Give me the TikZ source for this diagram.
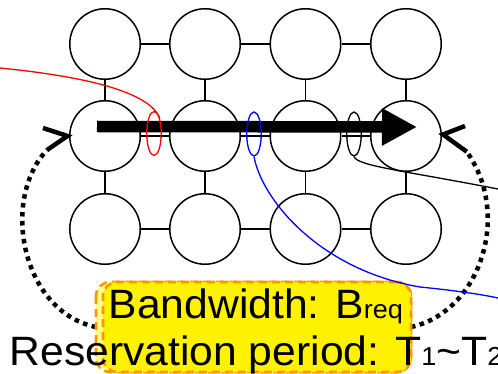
\documentclass[tikz,border=0pt]{standalone}
\usepackage{fontspec}
\setmainfont{Liberation Sans}
\usetikzlibrary{arrows.meta,shapes.geometric}
\definecolor{boxorange}{RGB}{255,150,0}
\definecolor{paleyellow}{RGB}{255,255,140}
\newcommand{\smalltext}[1]{{\fontsize{26}{26}\selectfont #1}}
\begin{document}
\begin{tikzpicture}[x=1pt,y=-1pt,
  router/.style={circle,draw,line width=1.5pt,fill=white,minimum size=70.5pt,inner sep=0pt},
  link/.style={line width=1.5pt},
  ring/.style={ellipse,draw,line width=1.3pt,minimum width=14.5pt,minimum height=44pt,inner sep=0pt},
  flow/.style={line width=1.3pt},
  loopback/.style={line width=4.5pt,dash pattern=on 4.5pt off 4.5pt},
  chevron/.style={line width=4.5pt,line cap=butt,line join=miter},
  specbox/.style={draw=boxorange,line width=2.6pt,dash pattern=on 8pt off 5pt,rounded corners=14pt,inner sep=0pt},
  big/.style={font=\fontsize{41}{41}\selectfont,anchor=base west,inner sep=0pt},
]
\useasboundingbox (0,0) rectangle (498,374);
\clip (0,0) rectangle (498,374);

% 3x4 grid of routers
\foreach \r/\y in {1/44,2/136,3/229}
  \foreach \c/\x in {1/105,2/205,3/305.5,4/406}
    \node[router] (n\r\c) at (\x,\y) {};
\foreach \r in {1,2,3}
  \foreach \c/\d in {1/2,2/3,3/4}
    \draw[link] (n\r\c) -- (n\r\d);
\foreach \c in {1,2,3,4} {
  \draw[link] (n1\c) -- (n2\c);
  \draw[link] (n2\c) -- (n3\c);
}

% reserved path through the middle row
\coordinate (pathstart) at (97,126.5);
\coordinate (pathend) at (417,127);
\draw[line width=11.5pt,-{Triangle[length=35pt,width=35pt]}] (pathstart) -- (pathend);

% competing flows on the links
\node[ring,draw=red] (ringA) at (154,133.5) {};
\node[ring,draw=blue] (ringB) at (254,134) {};
\node[ring,draw=black] (ringC) at (354,134) {};

\coordinate (redsrc) at (0,68);
\coordinate (bluesink) at (498,298);
\coordinate (blacksink) at (498,189);
\draw[flow,red] (redsrc) .. controls (100,78) and (150,95) .. (ringA.70);
\draw[flow,black] (ringC.south) .. controls (358,166) and (400,170) .. (blacksink);

% loop-back connectors from the request box to the end routers
\coordinate (specW) at (96,327);
\coordinate (specE) at (411,327);
\coordinate (lefttail) at (47,150);
\coordinate (righttail) at (466.7,151.7);
\draw[loopback] (specW) .. controls (22,312) and (0,200) .. (lefttail);
\draw[loopback] (specE) .. controls (480,312) and (512,215) .. (righttail);
\draw[chevron] (43,128) -- (67.5,136) -- (lefttail);
\draw[chevron] (465,126) -- (443,134.5) -- (righttail);

% request box
\path[specbox,fill=paleyellow] (96,282) rectangle (411,372);
\node[specbox,fill=yellow,minimum width=308pt,minimum height=90pt] (spec) at (257,327) {};

\draw[flow,blue] (ringB.south) .. controls (262,200) and (320,270) .. (420,287)
  .. controls (450,290) and (480,294) .. (bluesink);

\node[big] (bw) at (108.5,318) {\scalebox{1.04}[1]{Bandwidth: B\smalltext{req}}};
\node[big] (rp) at (9.5,365.7) {\scalebox{1.04}[1]{Reservation period: T\smalltext{1}\textasciitilde T\smalltext{2}}};
\end{tikzpicture}
\end{document}
